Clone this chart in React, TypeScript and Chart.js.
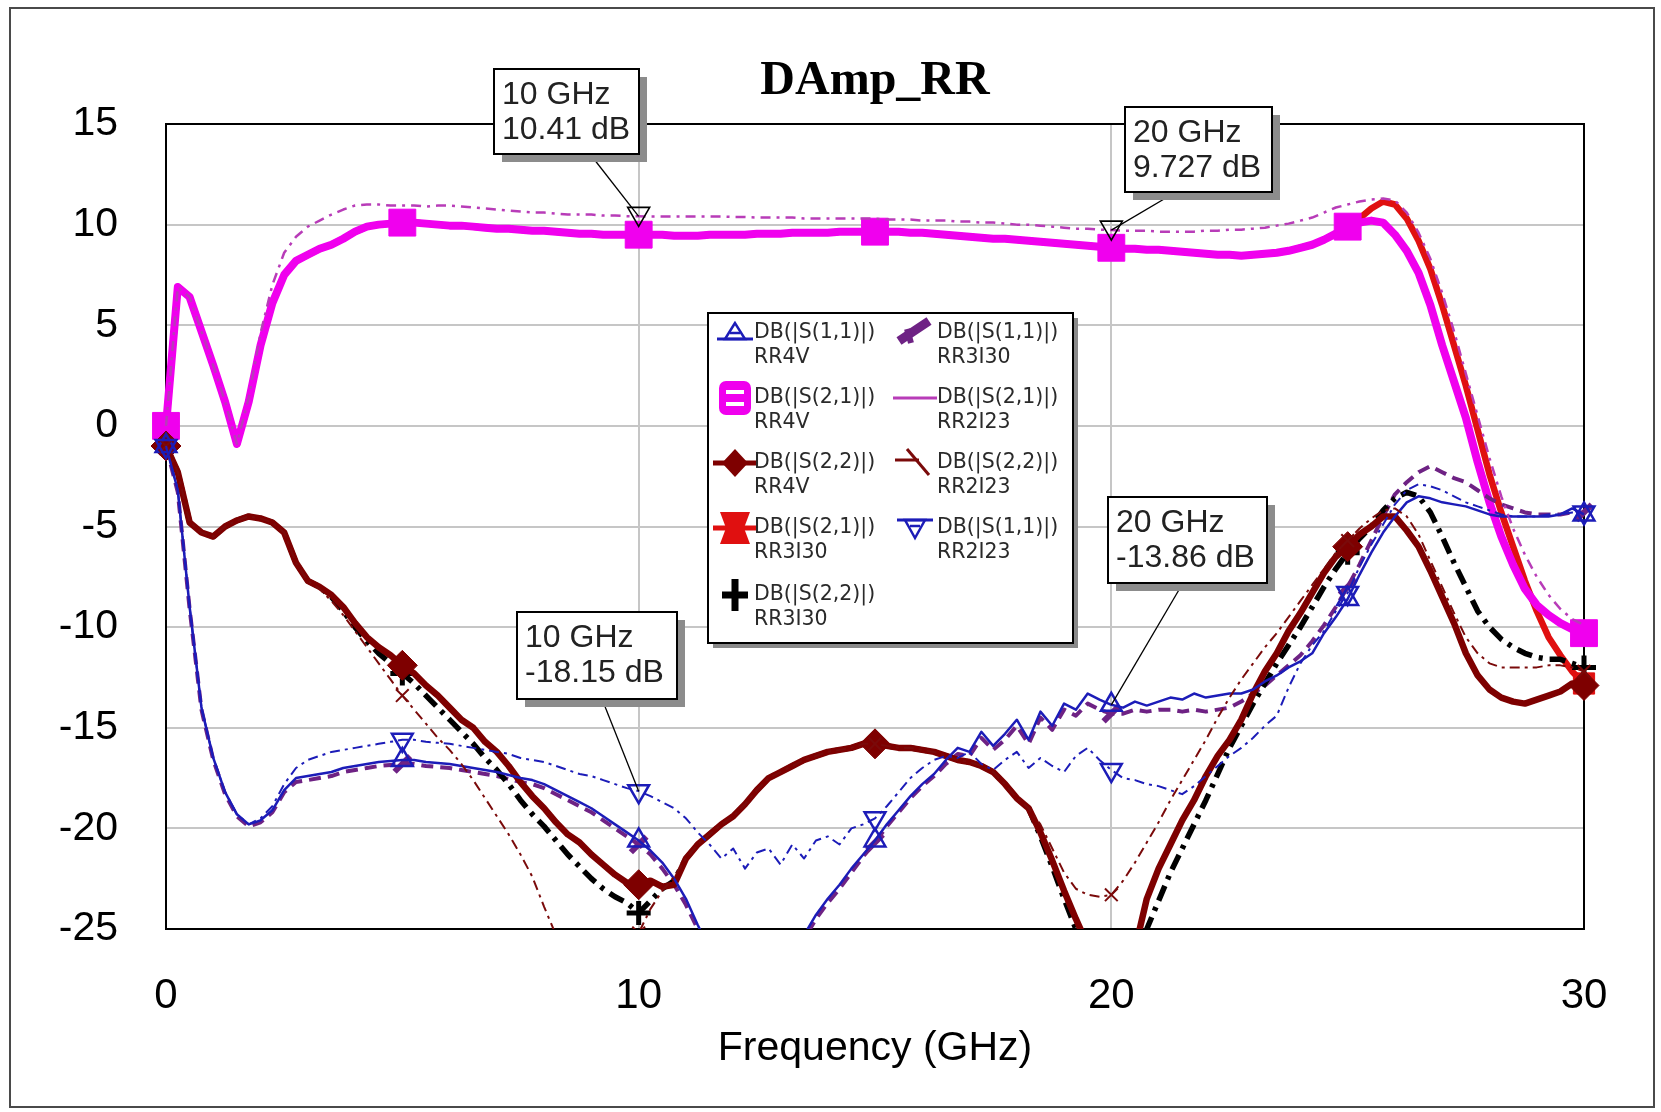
import React, { useEffect, useRef } from 'react';
import { Chart, registerables } from 'chart.js';

Chart.register(...registerables);

// ---------------- DATA ----------------
const CHART_TITLE = 'DAmp_RR';
const X_TITLE = 'Frequency (GHz)';
const X_MIN = 0, X_MAX = 30, X_STEP = 10;
const Y_MIN = -25, Y_MAX = 15, Y_STEP = 5;

const FREQ_GHZ = [
  0, 0.25, 0.5, 0.75, 1, 1.25, 1.5, 1.75, 2, 2.25, 2.5, 2.75, 3, 3.25, 3.5, 3.75, 4, 4.25, 4.5, 4.75,
  5, 5.25, 5.5, 5.75, 6, 6.25, 6.5, 6.75, 7, 7.25, 7.5, 7.75, 8, 8.25, 8.5, 8.75, 9, 9.25, 9.5, 9.75,
  10, 10.25, 10.5, 10.75, 11, 11.25, 11.5, 11.75, 12, 12.25, 12.5, 12.75, 13, 13.25, 13.5, 13.75, 14, 14.25, 14.5, 14.75,
  15, 15.25, 15.5, 15.75, 16, 16.25, 16.5, 16.75, 17, 17.25, 17.5, 17.75, 18, 18.25, 18.5, 18.75, 19, 19.25, 19.5, 19.75,
  20, 20.25, 20.5, 20.75, 21, 21.25, 21.5, 21.75, 22, 22.25, 22.5, 22.75, 23, 23.25, 23.5, 23.75, 24, 24.25, 24.5, 24.75,
  25, 25.25, 25.5, 25.75, 26, 26.25, 26.5, 26.75, 27, 27.25, 27.5, 27.75, 28, 28.25, 28.5, 28.75, 29, 29.25, 29.5, 29.75,
  30,
];

const S11_RR4V = [
  -1.0, -3.2, -9.0, -14.0, -16.5, -18.2, -19.3, -19.8, -19.6, -19.1, -18.1, -17.5, -17.4, -17.3, -17.2, -17.0, -16.9, -16.8, -16.7, -16.65,
  -16.6, -16.6, -16.7, -16.75, -16.8, -16.9, -17.0, -17.1, -17.2, -17.35, -17.5, -17.6, -17.8, -18.1, -18.4, -18.7, -19.0, -19.4, -19.8, -20.2,
  -20.6, -21.1, -21.7, -22.5, -23.5, -24.8, -26.0, -27.0, -27.5, -27.8, -28.0, -27.8, -27.2, -26.3, -25.3, -24.3, -23.5, -22.8, -22.0, -21.3,
  -20.6, -19.8, -19.1, -18.4, -17.8, -17.3, -16.6, -16.0, -16.2, -15.2, -15.9, -15.3, -14.6, -15.6, -14.2, -14.9, -13.8, -14.1, -13.3, -13.6,
  -13.86, -14.0, -13.7, -13.9, -13.7, -13.5, -13.6, -13.3, -13.5, -13.4, -13.3, -13.3, -13.1, -12.7, -12.4, -12.0, -11.7, -11.3, -10.3, -9.5,
  -8.6, -7.4, -6.3, -5.3, -4.5, -3.8, -3.5, -3.6, -3.8, -3.9, -4.0, -4.2, -4.4, -4.5, -4.5, -4.5, -4.5, -4.5, -4.4, -4.1,
  -4.4,
];

const S21_RR4V = [
  0.0, 6.9, 6.4, 4.7, 3.0, 1.2, -0.9, 1.2, 4.0, 6.1, 7.5, 8.2, 8.5, 8.8, 9.0, 9.3, 9.65, 9.9, 10.0, 10.05,
  10.1, 10.1, 10.05, 10.0, 9.95, 9.95, 9.9, 9.85, 9.8, 9.8, 9.75, 9.7, 9.7, 9.65, 9.6, 9.55, 9.55, 9.5, 9.5, 9.5,
  9.5, 9.5, 9.5, 9.45, 9.45, 9.45, 9.5, 9.5, 9.5, 9.5, 9.55, 9.55, 9.55, 9.6, 9.6, 9.6, 9.6, 9.65, 9.65, 9.65,
  9.65, 9.65, 9.65, 9.6, 9.6, 9.55, 9.5, 9.45, 9.4, 9.35, 9.3, 9.3, 9.25, 9.2, 9.15, 9.1, 9.05, 9.0, 8.95, 8.9,
  8.85, 8.8, 8.8, 8.75, 8.75, 8.7, 8.65, 8.6, 8.55, 8.5, 8.5, 8.45, 8.5, 8.55, 8.6, 8.7, 8.85, 9.0, 9.25, 9.55,
  9.9, 10.1, 10.2, 10.1, 9.5, 8.7, 7.6, 6.0, 4.0, 2.2, 0.4, -1.8, -3.8, -5.5, -6.9, -8.1, -8.9, -9.4, -9.8, -10.1,
  -10.3,
];

const S22_RR4V = [
  -1.0, -2.3, -4.8, -5.3, -5.5, -5.0, -4.7, -4.5, -4.6, -4.8, -5.3, -6.8, -7.7, -8.0, -8.4, -9.0, -9.8, -10.5, -11.0, -11.4,
  -11.9, -12.3, -12.9, -13.4, -14.0, -14.6, -15.0, -15.7, -16.2, -16.9, -17.7, -18.4, -19.0, -19.7, -20.3, -20.7, -21.3, -21.8, -22.3, -22.7,
  -22.8, -22.6, -22.9, -22.8, -21.5, -20.8, -20.3, -19.8, -19.4, -18.8, -18.1, -17.5, -17.2, -16.9, -16.6, -16.4, -16.2, -16.1, -16.0, -15.8,
  -15.8, -15.9, -16.0, -16.0, -16.1, -16.2, -16.4, -16.6, -16.7, -16.9, -17.2, -17.8, -18.5, -19.0, -20.2, -21.6, -23.1, -24.5, -25.8, -27.0,
  -28.0, -28.0, -26.0, -23.5, -22.0, -20.8, -19.6, -18.6, -17.4, -16.4, -15.6, -14.6, -13.3, -12.2, -11.3, -10.2, -9.3, -8.3, -7.3, -6.5,
  -6.0, -5.4, -5.0, -4.5, -4.5, -5.2, -6.0, -7.2, -8.5, -9.8, -11.3, -12.4, -13.1, -13.5, -13.7, -13.8, -13.6, -13.4, -13.2, -12.8,
  -12.9,
];

const S21_RR3I30 = [
  0.0, 6.9, 6.4, 4.7, 3.0, 1.2, -0.9, 1.2, 4.0, 6.1, 7.5, 8.2, 8.5, 8.8, 9.0, 9.3, 9.65, 9.9, 10.0, 10.05,
  10.1, 10.1, 10.05, 10.0, 9.95, 9.95, 9.9, 9.85, 9.8, 9.8, 9.75, 9.7, 9.7, 9.65, 9.6, 9.55, 9.55, 9.5, 9.5, 9.5,
  9.5, 9.5, 9.5, 9.45, 9.45, 9.45, 9.5, 9.5, 9.5, 9.5, 9.55, 9.55, 9.55, 9.6, 9.6, 9.6, 9.6, 9.65, 9.65, 9.65,
  9.65, 9.65, 9.65, 9.6, 9.6, 9.55, 9.5, 9.45, 9.4, 9.35, 9.3, 9.3, 9.25, 9.2, 9.15, 9.1, 9.05, 9.0, 8.95, 8.9,
  8.85, 8.8, 8.8, 8.75, 8.75, 8.7, 8.65, 8.6, 8.55, 8.5, 8.5, 8.45, 8.5, 8.55, 8.6, 8.7, 8.85, 9.0, 9.25, 9.55,
  9.9, 10.3, 10.8, 11.15, 11.0, 10.3, 9.2, 7.8, 6.0, 4.0, 2.0, -0.2, -2.4, -4.3, -6.0, -7.7, -9.2, -10.5, -11.4, -12.2,
  -12.8,
];

const S22_RR3I30 = [
  -1.0, -2.3, -4.8, -5.3, -5.5, -5.0, -4.7, -4.5, -4.6, -4.8, -5.3, -6.8, -7.7, -8.0, -8.5, -9.2, -10.0, -10.7, -11.3, -11.8,
  -12.3, -12.8, -13.4, -14.0, -14.6, -15.2, -15.8, -16.5, -17.1, -17.8, -18.6, -19.3, -19.9, -20.6, -21.3, -21.9, -22.5, -23.0, -23.4, -23.7,
  -24.2, -23.6, -23.0, -22.6, -21.5, -20.8, -20.3, -19.8, -19.4, -18.8, -18.1, -17.5, -17.2, -16.9, -16.6, -16.4, -16.2, -16.1, -16.0, -15.8,
  -15.8, -15.9, -16.0, -16.0, -16.1, -16.2, -16.4, -16.6, -16.7, -16.9, -17.2, -17.8, -18.5, -19.0, -20.4, -21.9, -23.5, -25.0, -26.5, -27.5,
  -28.0, -27.8, -26.5, -25.0, -23.6, -22.2, -21.0, -19.8, -18.6, -17.3, -16.0, -14.9, -13.8, -12.8, -11.8, -10.9, -10.0, -9.0, -8.0, -7.1,
  -6.3, -5.6, -5.0, -4.2, -3.6, -3.3, -3.5, -4.3, -5.5, -6.8, -8.0, -9.2, -10.0, -10.6, -11.0, -11.3, -11.5, -11.6, -11.6, -11.8,
  -12.0,
];

const S11_RR3I30 = [
  -1.0, -3.3, -9.1, -14.1, -16.6, -18.3, -19.4, -19.9, -19.7, -19.2, -18.2, -17.7, -17.6, -17.5, -17.4, -17.2, -17.1, -17.0, -16.9, -16.85,
  -16.8, -16.8, -16.9, -16.95, -17.0, -17.1, -17.2, -17.3, -17.4, -17.55, -17.7, -17.8, -18.0, -18.3, -18.6, -18.9, -19.2, -19.6, -20.0, -20.4,
  -20.8, -21.3, -22.0, -22.8, -23.8, -25.0, -26.2, -27.2, -27.7, -28.0, -28.2, -28.0, -27.4, -26.5, -25.5, -24.5, -23.7, -23.0, -22.2, -21.4,
  -20.7, -19.9, -19.2, -18.5, -17.9, -17.4, -16.8, -16.3, -16.4, -15.5, -16.1, -15.6, -14.9, -15.8, -14.5, -15.1, -14.1, -14.4, -13.8, -14.1,
  -14.3, -14.3, -14.1, -14.2, -14.1, -14.1, -14.2, -14.1, -14.2, -14.1, -14.0, -13.7, -13.3, -12.9, -12.4, -11.9, -11.4, -10.7, -9.9, -9.0,
  -8.0, -6.9, -5.7, -4.5, -3.4, -2.8, -2.3, -2.0, -2.3, -2.6, -2.8, -3.2, -3.6, -3.9, -4.1, -4.3, -4.4, -4.4, -4.4, -4.3,
  -4.3,
];

const S21_RR2I23 = [
  0.0, 6.9, 6.4, 4.7, 3.0, 1.2, -0.9, 1.4, 4.6, 7.0, 8.6, 9.4, 9.9, 10.2, 10.5, 10.75, 10.95, 11.0, 11.0, 10.95,
  10.95, 10.95, 10.9, 10.95, 10.95, 10.9, 10.85, 10.8, 10.75, 10.7, 10.65, 10.6, 10.6, 10.55, 10.5, 10.5, 10.5, 10.45, 10.45, 10.42,
  10.41, 10.4, 10.4, 10.4, 10.4, 10.4, 10.4, 10.4, 10.38, 10.38, 10.35, 10.35, 10.35, 10.35, 10.3, 10.3, 10.3, 10.3, 10.3, 10.3,
  10.3, 10.25, 10.25, 10.25, 10.2, 10.2, 10.2, 10.15, 10.15, 10.1, 10.1, 10.05, 10.0, 10.0, 9.95, 9.9, 9.85, 9.8, 9.8, 9.75,
  9.727, 9.7, 9.7, 9.7, 9.65, 9.65, 9.65, 9.65, 9.7, 9.7, 9.75, 9.75, 9.8, 9.85, 9.95, 10.05, 10.2, 10.35, 10.6, 10.85,
  11.0, 11.15, 11.25, 11.3, 11.2, 10.6, 9.6, 8.3, 6.6, 4.7, 2.6, 0.5, -1.6, -3.5, -5.1, -6.4, -7.5, -8.4, -9.1, -9.6,
  -9.9,
];

const S22_RR2I23 = [
  -1.0, -2.3, -4.8, -5.3, -5.5, -5.0, -4.7, -4.5, -4.6, -4.8, -5.3, -6.8, -7.7, -8.1, -8.7, -9.4, -10.2, -11.0, -11.8, -12.6,
  -13.4, -14.1, -14.8, -15.5, -16.1, -16.8, -17.6, -18.5, -19.4, -20.3, -21.3, -22.4, -23.9, -25.3, -26.5, -27.5, -28.3, -28.8, -28.5, -27.0,
  -25.2, -24.0, -23.1, -22.4, -21.5, -20.8, -20.3, -19.8, -19.4, -18.8, -18.1, -17.5, -17.2, -16.9, -16.6, -16.4, -16.2, -16.1, -16.0, -15.8,
  -15.8, -15.9, -16.0, -16.0, -16.1, -16.2, -16.4, -16.6, -16.7, -16.9, -17.2, -17.8, -18.5, -19.0, -19.8, -21.0, -22.2, -23.0, -23.3, -23.4,
  -23.3, -22.6, -21.7, -20.7, -19.7, -18.6, -17.6, -16.6, -15.6, -14.5, -13.5, -12.6, -11.8, -11.0, -10.3, -9.5, -8.7, -7.9, -7.1, -6.3,
  -5.7, -5.1, -4.6, -4.2, -4.1, -4.5, -5.4, -6.7, -8.0, -9.3, -10.5, -11.3, -11.8, -12.0, -12.0, -12.0, -12.0, -11.9, -11.9, -12.0,
  -12.2,
];

const S11_RR2I23 = [
  -1.0, -3.2, -9.0, -14.0, -16.5, -18.2, -19.3, -19.8, -19.5, -18.9, -17.8, -17.0, -16.6, -16.4, -16.2, -16.1, -16.0, -15.9, -15.8, -15.7,
  -15.6, -15.6, -15.7, -15.75, -15.8, -15.9, -16.0, -16.1, -16.2, -16.3, -16.5, -16.6, -16.7, -16.9, -17.1, -17.3, -17.4, -17.6, -17.8, -18.0,
  -18.15, -18.4, -18.7, -19.0, -19.5, -20.2, -20.8, -21.5, -21.0, -22.0, -21.2, -21.0, -21.8, -20.8, -21.5, -20.6, -20.4, -20.8, -20.0, -19.8,
  -19.5, -18.9, -18.2, -17.5, -17.0, -16.6, -16.4, -16.5, -16.2, -16.8, -17.1, -16.6, -16.2, -17.0, -16.5, -16.9, -17.2, -16.4, -16.0, -16.6,
  -17.1, -17.5, -17.6, -17.8, -17.9, -18.1, -18.3, -17.9, -17.4, -16.9, -16.4, -16.0, -15.5, -14.9, -14.4, -13.0, -11.8, -10.9, -10.2, -9.2,
  -8.3, -7.0, -5.9, -4.9, -3.9, -3.2, -2.9, -3.0, -3.2, -3.5, -3.8, -4.0, -4.2, -4.4, -4.5, -4.5, -4.5, -4.4, -4.4, -4.3,
  -4.3,
];

// legend order
const SERIES_NAMES = [
  'DB(|S(1,1)|)', 'DB(|S(2,1)|)', 'DB(|S(2,2)|)', 'DB(|S(2,1)|)', 'DB(|S(2,2)|)',
  'DB(|S(1,1)|)', 'DB(|S(2,1)|)', 'DB(|S(2,2)|)', 'DB(|S(1,1)|)',
];
const SERIES_SOURCES = ['RR4V', 'RR4V', 'RR4V', 'RR3I30', 'RR3I30', 'RR3I30', 'RR2I23', 'RR2I23', 'RR2I23'];
const SERIES_VALUES = [S11_RR4V, S21_RR4V, S22_RR4V, S21_RR3I30, S22_RR3I30, S11_RR3I30, S21_RR2I23, S22_RR2I23, S11_RR2I23];

// marker readouts
const MARKER_FREQ = [10, 20, 20, 10];
const MARKER_DB = [10.41, 9.727, -13.86, -18.15];

// ---------------- STYLE ----------------
const FONT_SANS = '"Liberation Sans", Arial, sans-serif';
const MARKER_EVERY = 20;

const SERIES_STYLE = [
  { color: '#1c1cb8', width: 2.5, dash: [], point: 'triangle', radius: 12, fill: false, pbw: 2.5, rot: 0, order: 4, sym: 'triUp' },
  { color: '#f000ee', width: 8, dash: [], point: 'rect', radius: 19, fill: true, pbw: 1, rot: 0, order: 8, sym: 'square' },
  { color: '#7e0000', width: 6.5, dash: [], point: 'rectRot', radius: 15, fill: true, pbw: 1, rot: 0, order: 5, sym: 'diamond' },
  { color: '#e01010', width: 6.5, dash: [], point: 'rect', radius: 15, fill: true, pbw: 1, rot: 0, order: 9, sym: 'redBox' },
  { color: '#000000', width: 5.5, dash: [16, 7, 4, 7], point: 'cross', radius: 12, fill: false, pbw: 5, rot: 0, order: 6, sym: 'plus' },
  { color: '#6e2284', width: 4, dash: [12, 7], point: 'line', radius: 11, fill: false, pbw: 6, rot: -45, order: 7, sym: 'check' },
  { color: '#b83cb8', width: 2.5, dash: [10, 6, 3, 6], point: false, radius: 0, fill: false, pbw: 1, rot: 0, order: 3, sym: 'line' },
  { color: '#7a0a0a', width: 2, dash: [10, 5, 3, 5], point: 'crossRot', radius: 9, fill: false, pbw: 2, rot: 0, order: 2, sym: 'xThin' },
  { color: '#1c1cb8', width: 2, dash: [10, 5, 3, 5], point: 'triangle', radius: 12, fill: false, pbw: 2.5, rot: 180, order: 1, sym: 'triDown' },
];

const NOTE_BOXES = [
  { x: 494, y: 69, w: 145, h: 85, ax: 590, ay: 154, tri: true },
  { x: 1125, y: 107, w: 147, h: 85, ax: 1176, ay: 192, tri: true },
  { x: 1108, y: 497, w: 159, h: 86, ax: 1183, ay: 583, tri: false },
  { x: 517, y: 612, w: 160, h: 87, ax: 602, ay: 699, tri: false },
];

const LEGEND_BOX = { x: 708, y: 313, w: 365, h: 330 };
const LEGEND_ROWS = [333, 398, 463, 528, 595];
const LEGEND_COLS = [{ sx: 735, tx: 754 }, { sx: 915, tx: 937 }];

function drawSymbol(ctx: CanvasRenderingContext2D, kind: string, x: number, y: number, color: string) {
  ctx.save();
  ctx.strokeStyle = color;
  ctx.fillStyle = color;
  ctx.lineCap = 'butt';
  ctx.setLineDash([]);
  if (kind === 'triUp') {
    ctx.lineWidth = 3;
    ctx.beginPath(); ctx.moveTo(x - 18, y + 6); ctx.lineTo(x + 18, y + 6); ctx.stroke();
    ctx.lineWidth = 2.5;
    ctx.beginPath(); ctx.moveTo(x, y - 10); ctx.lineTo(x - 10, y + 6); ctx.lineTo(x + 10, y + 6); ctx.closePath(); ctx.stroke();
    ctx.beginPath(); ctx.moveTo(x - 5, y); ctx.lineTo(x + 5, y); ctx.stroke();
  } else if (kind === 'square') {
    ctx.beginPath();
    (ctx as any).roundRect(x - 16, y - 17, 32, 34, 7);
    ctx.fill();
    ctx.fillStyle = '#fff';
    ctx.fillRect(x - 9, y - 8, 18, 4);
    ctx.fillRect(x - 9, y + 4, 18, 4);
  } else if (kind === 'diamond') {
    ctx.lineWidth = 5;
    ctx.beginPath(); ctx.moveTo(x - 22, y); ctx.lineTo(x + 22, y); ctx.stroke();
    ctx.beginPath(); ctx.moveTo(x, y - 14); ctx.lineTo(x + 13, y); ctx.lineTo(x, y + 14); ctx.lineTo(x - 13, y); ctx.closePath(); ctx.fill();
  } else if (kind === 'redBox') {
    ctx.lineWidth = 5;
    ctx.beginPath(); ctx.moveTo(x - 22, y); ctx.lineTo(x + 22, y); ctx.stroke();
    ctx.beginPath();
    ctx.moveTo(x - 15, y - 16); ctx.lineTo(x + 15, y - 16); ctx.lineTo(x + 9, y); ctx.lineTo(x + 15, y + 16);
    ctx.lineTo(x - 15, y + 16); ctx.lineTo(x - 9, y); ctx.closePath(); ctx.fill();
  } else if (kind === 'plus') {
    ctx.lineWidth = 7;
    ctx.beginPath(); ctx.moveTo(x - 13, y); ctx.lineTo(x + 13, y); ctx.moveTo(x, y - 16); ctx.lineTo(x, y + 16); ctx.stroke();
  } else if (kind === 'check') {
    ctx.lineWidth = 9;
    ctx.beginPath(); ctx.moveTo(x - 16, y + 8); ctx.lineTo(x + 14, y - 12); ctx.stroke();
    ctx.lineWidth = 6;
    ctx.beginPath(); ctx.moveTo(x - 8, y - 4); ctx.lineTo(x - 4, y + 10); ctx.stroke();
  } else if (kind === 'line') {
    ctx.lineWidth = 3;
    ctx.beginPath(); ctx.moveTo(x - 22, y); ctx.lineTo(x + 22, y); ctx.stroke();
  } else if (kind === 'xThin') {
    ctx.lineWidth = 3;
    ctx.beginPath(); ctx.moveTo(x - 20, y - 3); ctx.lineTo(x + 4, y - 3); ctx.stroke();
    ctx.beginPath(); ctx.moveTo(x - 8, y - 14); ctx.lineTo(x + 14, y + 12); ctx.stroke();
  } else if (kind === 'triDown') {
    ctx.lineWidth = 3;
    ctx.beginPath(); ctx.moveTo(x - 18, y - 8); ctx.lineTo(x + 18, y - 8); ctx.stroke();
    ctx.lineWidth = 2.5;
    ctx.beginPath(); ctx.moveTo(x - 10, y - 8); ctx.lineTo(x + 10, y - 8); ctx.lineTo(x, y + 10); ctx.closePath(); ctx.stroke();
    ctx.beginPath(); ctx.moveTo(x - 5, y - 2); ctx.lineTo(x + 5, y - 2); ctx.stroke();
  }
  ctx.restore();
}

const framePlugin = {
  id: 'frame',
  beforeDraw(chart: any) {
    const { ctx, width, height } = chart;
    ctx.save();
    ctx.fillStyle = '#ffffff';
    ctx.fillRect(0, 0, width, height);
    ctx.strokeStyle = '#4a4a4a';
    ctx.lineWidth = 2;
    ctx.strokeRect(10, 8, width - 17, height - 13);
    ctx.restore();
  },
  beforeDatasetsDraw(chart: any) {
    const { ctx, chartArea: a } = chart;
    ctx.save();
    ctx.strokeStyle = '#000';
    ctx.lineWidth = 2;
    ctx.strokeRect(a.left, a.top, a.right - a.left, a.bottom - a.top);
    ctx.restore();
  },
};

const notesPlugin = {
  id: 'notes',
  afterDatasetsDraw(chart: any) {
    const { ctx } = chart;
    const xs = chart.scales.x, ys = chart.scales.y;
    ctx.save();
    // legend box
    const L = LEGEND_BOX;
    ctx.fillStyle = '#8a8a8a';
    ctx.fillRect(L.x + 5, L.y + 5, L.w, L.h);
    ctx.fillStyle = '#ffffff';
    ctx.fillRect(L.x, L.y, L.w, L.h);
    ctx.strokeStyle = '#000';
    ctx.lineWidth = 2;
    ctx.strokeRect(L.x, L.y, L.w, L.h);
    ctx.font = '20.5px "DejaVu Sans", sans-serif';
    ctx.textBaseline = 'middle';
    ctx.textAlign = 'left';
    chart.data.datasets.forEach((ds: any, i: number) => {
      const col = i < 5 ? 0 : 1;
      const row = i < 5 ? i : i - 5;
      const c = LEGEND_COLS[col];
      const ry = LEGEND_ROWS[row];
      drawSymbol(ctx, SERIES_STYLE[i].sym, c.sx, ry, SERIES_STYLE[i].color);
      ctx.fillStyle = '#2a2a2a';
      ctx.fillText(SERIES_NAMES[i], c.tx, ry);
      ctx.fillText(SERIES_SOURCES[i], c.tx, ry + 25);
    });

    // marker readouts
    MARKER_FREQ.forEach((f, i) => {
      const px = xs.getPixelForValue(f);
      const py = ys.getPixelForValue(MARKER_DB[i]);
      const b = NOTE_BOXES[i];
      ctx.strokeStyle = '#000';
      ctx.lineWidth = 1.3;
      ctx.setLineDash([]);
      ctx.beginPath(); ctx.moveTo(b.ax, b.ay); ctx.lineTo(px, py); ctx.stroke();
      if (b.tri) {
        ctx.lineWidth = 1.6;
        ctx.beginPath();
        ctx.moveTo(px - 11, py - 9); ctx.lineTo(px + 11, py - 9); ctx.lineTo(px, py + 10); ctx.closePath();
        ctx.stroke();
      }
      ctx.fillStyle = '#8c8c8c';
      ctx.fillRect(b.x + 8, b.y + 8, b.w, b.h);
      ctx.fillStyle = '#ffffff';
      ctx.fillRect(b.x, b.y, b.w, b.h);
      ctx.lineWidth = 2;
      ctx.strokeRect(b.x, b.y, b.w, b.h);
      ctx.fillStyle = '#222';
      ctx.font = '32px ' + FONT_SANS;
      ctx.textBaseline = 'middle';
      ctx.fillText(`${f} GHz`, b.x + 8, b.y + 26);
      ctx.fillText(`${MARKER_DB[i]} dB`, b.x + 8, b.y + 61);
    });
    ctx.restore();
  },
};

export default function App() {
  const ref = useRef<HTMLCanvasElement | null>(null);

  useEffect(() => {
    document.body.style.margin = '0';
    const canvas = ref.current;
    if (!canvas) return;

    const datasets = SERIES_VALUES.map((vals, i) => {
      const st = SERIES_STYLE[i];
      return {
        label: `${SERIES_NAMES[i]} ${SERIES_SOURCES[i]}`,
        data: FREQ_GHZ.map((f, k) => ({ x: f, y: vals[k] })),
        borderColor: st.color,
        backgroundColor: st.fill ? st.color : 'rgba(255,255,255,0)',
        borderWidth: st.width,
        borderDash: st.dash,
        borderCapStyle: 'butt',
        borderJoinStyle: 'round',
        tension: 0,
        pointStyle: st.point || 'circle',
        pointRadius: (c: any) => (st.point && c.dataIndex % MARKER_EVERY === 0 ? st.radius : 0),
        pointHoverRadius: 0,
        pointBorderWidth: st.pbw,
        pointBorderColor: st.color,
        pointBackgroundColor: st.fill ? st.color : 'rgba(255,255,255,0)',
        pointRotation: st.rot,
        order: st.order,
        clip: { left: 20, right: 20, top: 0, bottom: 0 },
      };
    });

    const chart = new Chart(canvas, {
      type: 'line',
      data: { datasets },
      options: {
        responsive: false,
        animation: false,
        devicePixelRatio: 1,
        events: [],
        layout: { padding: { left: 0, right: 77, top: 0, bottom: 0 } },
        plugins: {
          legend: { display: false },
          tooltip: { enabled: false },
          title: {
            display: true,
            text: CHART_TITLE,
            fullSize: false,
            color: '#000',
            font: { family: '"Liberation Serif", "Times New Roman", serif', size: 48, weight: 'bold' },
            padding: { top: 53.2, bottom: 13.2 },
          },
        },
        scales: {
          x: {
            type: 'linear',
            min: X_MIN,
            max: X_MAX,
            ticks: { stepSize: X_STEP, color: '#000', font: { family: FONT_SANS, size: 42 }, padding: 42, maxRotation: 0 },
            grid: { color: '#c6c6c6', lineWidth: 2, drawTicks: false },
            border: { display: false },
            title: {
              display: true,
              text: X_TITLE,
              color: '#000',
              font: { family: FONT_SANS, size: 41 },
              padding: { top: 0, bottom: 38.4 },
            },
            afterFit: (s: any) => { s.height = 183; },
          },
          y: {
            type: 'linear',
            min: Y_MIN,
            max: Y_MAX,
            ticks: { stepSize: Y_STEP, color: '#000', font: { family: FONT_SANS, size: 41 }, padding: 48 },
            grid: { color: '#c6c6c6', lineWidth: 2, drawTicks: false },
            border: { display: false },
            afterFit: (s: any) => { s.width = 166; },
          },
        },
      },
      plugins: [framePlugin, notesPlugin],
    } as any);

    return () => chart.destroy();
  }, []);

  return (
    <canvas
      ref={ref}
      width={1661}
      height={1112}
      style={{ display: 'block', width: '1661px', height: '1112px' }}
    />
  );
}
